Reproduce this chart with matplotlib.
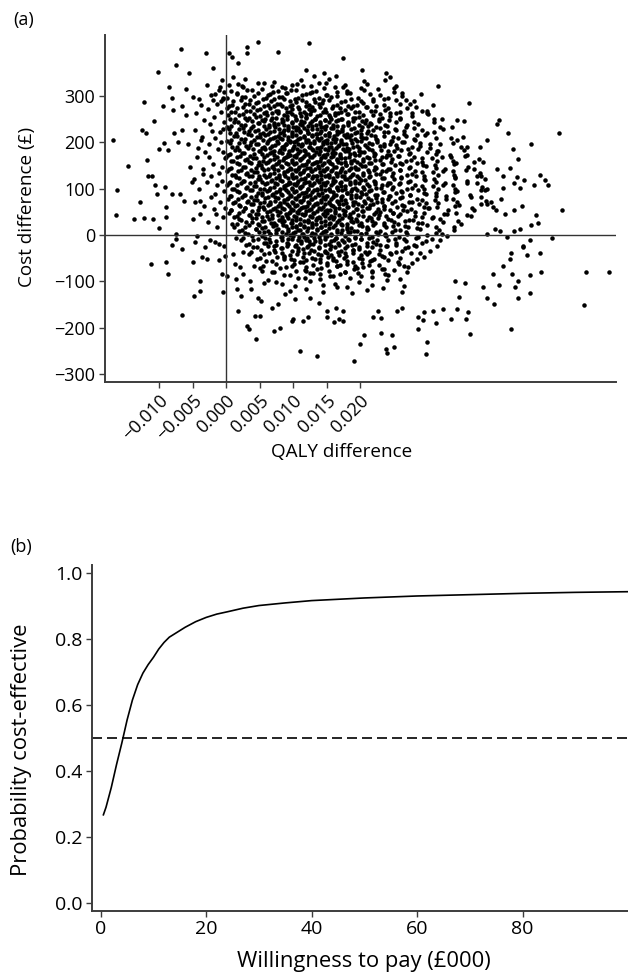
import numpy as np
import matplotlib.pyplot as plt

plt.rcParams['font.family'] = ['Open Sans', 'DejaVu Sans']

# (a) cost-effectiveness plane: QALY difference (in thousandths) and cost difference (GBP)
# sparse replicates around the edge of the cloud
outer_points = [
    (-16.9, 204), (-16.3, 96), (-16.4, 43), (-14.7, 148), (-13.8, 35), (-12.9, 70), (-12.6, 227),
    (-12.2, 287), (-12.0, 220), (-12.3, 36), (-11.8, 162), (-11.6, 128), (-11.1, 128), (-10.9, 35),
    (-10.7, 246), (-10.6, 108), (-10.3, 89), (-10.1, 352), (-10.0, 185), (-10.0, 14), (-9.4, 278),
    (-9.3, 198), (-9.1, 103), (-9.0, 60), (-8.9, 38), (-8.6, 184), (-8.5, 318), (-8.1, 296),
    (-7.9, 269), (-8.0, 89), (-7.8, 219), (-7.5, 366), (-7.1, 200), (-6.9, 89), (-6.7, 400),
    (-6.6, 227), (-6.5, 278), (-6.3, 74), (-6.0, 258), (-5.9, 314), (-5.7, 197), (-5.5, 350),
    (-5.4, 146), (-5.1, 114), (-5.0, 35), (-4.9, 298), (-4.6, 226), (-4.4, 168), (-4.0, 294),
    (-3.9, 74), (-3.6, 211), (-3.4, 132), (-3.0, 393), (-2.9, 323), (-2.6, 168), (-2.4, 240),
    (-2.0, 359), (-1.9, 291), (-1.6, 89), (-1.5, 45), (-1.1, 312), (-0.9, 222), (-0.6, 146),
    (-0.4, 179), (0.4, 392), (0.9, 384), (1.1, 341), (1.8, 371), (3.1, 405), (3.2, 392),
    (4.7, 415), (7.7, 394), (12.4, 413), (11.9, 356),
    (-4.5, 262), (-3.8, 281), (-3.3, 248), (-2.7, 271), (-2.2, 302), (-1.8, 255), (-1.3, 283),
    (-0.8, 266), (-0.5, 295), (-0.3, 243), (-4.2, 187), (-3.7, 205), (-3.1, 178), (-2.5, 196),
    (-2.1, 224), (-1.7, 209), (-1.2, 186), (-0.7, 201), (-0.4, 228), (-0.2, 165), (-4.8, 121),
    (-4.1, 98), (-3.5, 142), (-2.9, 115), (-2.3, 128), (-1.9, 152), (-1.4, 107), (-1.0, 134),
    (-0.6, 117), (-0.3, 95), (-3.9, 45), (-3.3, 63), (-2.7, 28), (-2.2, 81), (-1.8, 55),
    (-1.3, 18), (-0.9, 72), (-0.5, 39), (-0.2, 58), (-4.6, 70),
    (17.4, 381), (13.1, 343), (14.6, 350), (16.4, 343), (20.3, 356), (23.8, 350), (24.4, 341),
    (25.1, 317), (26.2, 305), (29.1, 304), (31.7, 322), (30.9, 281), (28.1, 289), (36.2, 285),
    (30.0, 263), (32.3, 251), (34.4, 247), (35.5, 246), (40.7, 247), (40.4, 239), (42.1, 220),
    (49.7, 220), (45.5, 195), (42.8, 186), (38.9, 204), (37.9, 190), (35.4, 211), (33.7, 233),
    (43.6, 163), (42.3, 145), (40.4, 143), (46.9, 130), (47.6, 119), (48.0, 107), (46.0, 107),
    (44.5, 118), (43.4, 125), (42.9, 112), (43.9, 101), (41.3, 128), (41.3, 102), (41.0, 78),
    (39.6, 72), (38.6, 121), (38.9, 98), (50.1, 53), (46.3, 43), (46.6, 25), (45.5, 22),
    (44.1, 62), (43.0, 54), (43.9, 13), (42.9, 9), (41.6, 45), (40.3, 54), (39.9, 60),
    (40.9, 9), (40.1, 12), (48.7, -7), (45.4, -11), (44.3, -25), (41.9, -5), (38.9, 2),
    (-11.2, -63), (-8.9, -58), (-8.7, -84), (-8.0, -22), (-7.5, 1), (-7.5, -9), (-6.6, -30),
    (-6.6, -173), (-4.9, -58), (-4.8, -132), (-4.6, -16), (-4.4, -2), (-3.9, -100), (-3.9, -121),
    (-3.6, -48), (-3.1, -27), (-2.8, -52), (-2.4, -12), (-1.6, -16), (-1.1, -20), (-1.1, -54),
    (-0.6, -84), (-0.4, -124), (-0.3, -23), (-0.1, -45), (0.2, -88), (1.1, -41), (1.3, -63),
    (1.5, -95), (1.6, -117), (1.8, -165), (2.1, -70), (2.3, -131), (2.6, -84), (3.1, -196),
    (3.4, -203), (3.6, -99), (3.8, -117), (4.3, -175), (4.5, -225), (4.7, -135), (5.0, -175),
    (5.2, -142), (5.3, -77), (5.6, -103), (6.8, -157), (7.1, -207), (7.8, -149), (8.1, -200),
    (8.3, -106), (9.6, -121), (9.8, -185), (10.0, -182), (10.3, -139), (11.0, -250), (11.5, -185),
    (11.8, -92), (12.3, -178), (12.5, -135), (13.5, -261), (13.8, -146),
    (15.0, -178), (15.0, -164), (16.1, -187), (16.9, -182), (17.5, -185), (16.4, -157), (17.5, -164),
    (19.1, -272), (20.0, -236), (20.6, -216), (22.0, -177), (23.1, -180), (22.7, -164), (23.1, -211),
    (23.9, -245), (24.0, -254), (24.7, -216), (25.0, -242), (25.5, -164), (26.2, -157), (28.6, -202),
    (28.7, -178), (29.6, -166), (29.4, -184), (29.9, -256), (30.0, -232), (30.9, -165), (31.4, -189),
    (32.4, -160), (33.5, -182), (34.5, -160), (34.8, -134), (35.8, -182), (36.1, -167), (36.4, -214),
    (34.2, -99), (35.7, -103), (38.4, -113), (38.9, -135), (40.0, -149), (39.9, -84), (40.8, -108),
    (42.5, -204), (42.7, -84), (43.5, -136), (43.6, -99), (43.1, -112), (45.4, -126), (45.4, -86),
    (47.0, -79), (46.8, -38), (44.9, -43), (44.3, -27), (42.5, -39), (42.3, -52), (41.4, -66),
    (53.4, -151), (53.7, -79), (57.1, -79),
]

# dense centre of the cloud, one row per cost band: (QALY values, cost values)
core_rows = [
    ([-0.6, 1.8, 2.9, 5.6, 7.1, 9.8, 11.2, 13.9, 15.3, 17.8, 20.6, 23.7],
     [333, 325, 336, 328, 330, 323, 334, 327, 337, 324, 331, 335]),
    ([0.5, 2.6, 4.8, 6.9, 8.8, 10.6, 12.7, 14.9, 17.5, 21.0],
     [324, 318, 327, 321, 316, 325, 322, 328, 319, 326]),
    ([-0.9, 0.8, 2.4, 3.9, 5.3, 7.0, 8.4, 9.7, 11.5, 12.8, 14.6, 16.3, 18.1, 20.2, 22.7, 25.4],
     [318, 310, 321, 313, 315, 308, 319, 312, 322, 309, 316, 320, 311, 317, 314, 321]),
    ([-0.3, 1.6, 3.2, 4.7, 6.2, 7.7, 9.1, 10.4, 11.9, 13.4, 14.9, 16.6, 18.5, 20.6, 22.9, 25.0],
     [309, 303, 312, 306, 301, 310, 307, 313, 304, 311, 302, 308, 305, 312, 301, 309]),
    ([-1.7, 0.2, 1.6, 2.9, 4.1, 5.5, 6.6, 7.9, 9.0, 10.3, 11.4, 12.6, 13.9, 15.1, 16.6, 18.0, 19.7, 21.5, 23.6, 26.2],
     [303, 295, 306, 298, 300, 293, 304, 297, 307, 294, 301, 305, 296, 302, 299, 306, 295, 303, 293, 300]),
    ([-0.5, 1.0, 2.4, 3.6, 4.8, 6.0, 7.2, 8.4, 9.6, 10.8, 12.0, 13.2, 14.4, 15.7, 17.1, 18.6, 20.2, 22.0, 24.2, 26.8],
     [294, 288, 297, 291, 286, 295, 292, 298, 289, 296, 287, 293, 290, 297, 286, 294, 288, 292, 295, 291]),
    ([-0.7, 0.9, 2.2, 3.4, 4.5, 5.6, 6.7, 7.6, 8.6, 9.5, 10.5, 11.4, 12.4, 13.3, 14.3, 15.4, 16.5, 17.7, 19.0, 20.4,
      21.9, 23.5, 25.3, 27.4],
     [288, 280, 291, 283, 285, 278, 289, 282, 292, 279, 286, 290, 281, 287, 284, 291, 280, 288, 278, 285,
      288, 280, 291, 283]),
    ([0.4, 1.7, 2.9, 4.0, 5.1, 6.2, 7.2, 8.1, 9.0, 9.9, 10.9, 11.9, 12.9, 13.8, 14.8, 15.9, 17.0, 18.2, 19.5, 20.9,
      22.4, 24.1, 26.0, 28.3],
     [279, 273, 282, 276, 271, 280, 277, 283, 274, 281, 272, 278, 275, 282, 271, 279, 273, 277, 280, 276,
      279, 273, 282, 276]),
    ([0.1, 1.3, 2.5, 3.6, 4.6, 5.6, 6.5, 7.4, 8.3, 9.1, 9.9, 10.8, 11.6, 12.4, 13.2, 14.0, 14.9, 15.8, 16.7, 17.7,
      18.7, 19.8, 21.0, 22.3, 23.7, 25.3, 27.0, 29.2],
     [273, 265, 276, 268, 270, 263, 274, 267, 277, 264, 271, 275, 266, 272, 269, 276, 265, 273, 263, 270,
      273, 265, 276, 268, 270, 263, 274, 267]),
    ([0.7, 1.9, 3.0, 4.1, 5.1, 6.0, 6.9, 7.8, 8.7, 9.5, 10.3, 11.1, 11.9, 12.7, 13.5, 14.4, 15.3, 16.2, 17.2, 18.2,
      19.3, 20.4, 21.6, 22.9, 24.4, 26.0, 27.8, 30.0],
     [264, 258, 267, 261, 256, 265, 262, 268, 259, 266, 257, 263, 260, 267, 256, 264, 258, 262, 265, 261,
      264, 258, 267, 261, 256, 265, 262, 268]),
    ([0.3, 1.4, 2.5, 3.5, 4.4, 5.3, 6.1, 6.9, 7.7, 8.4, 9.1, 9.8, 10.5, 11.2, 11.9, 12.6, 13.3, 14.0, 14.7, 15.5,
      16.3, 17.1, 18.0, 18.9, 19.9, 20.9, 22.0, 23.2, 24.5, 26.0, 27.7, 30.1],
     [258, 250, 261, 253, 255, 248, 259, 252, 262, 249, 256, 260, 251, 257, 254, 261, 250, 258, 248, 255,
      258, 250, 261, 253, 255, 248, 259, 252, 262, 249, 256, 260]),
    ([0.6, 1.8, 2.9, 3.9, 4.9, 5.8, 6.7, 7.5, 8.3, 9.1, 9.8, 10.5, 11.2, 11.9, 12.6, 13.3, 14.0, 14.8, 15.6, 16.4,
      17.3, 18.2, 19.2, 20.3, 21.5, 22.8, 24.3, 26.0, 28.0, 31.0],
     [249, 243, 252, 246, 241, 250, 247, 253, 244, 251, 242, 248, 245, 252, 241, 249, 243, 247, 250, 246,
      249, 243, 252, 246, 241, 250, 247, 253, 244, 251]),
    ([0.2, 1.2, 2.2, 3.1, 4.0, 4.8, 5.6, 6.4, 7.1, 7.8, 8.5, 9.2, 9.8, 10.4, 11.0, 11.6, 12.2, 12.8, 13.4, 14.0,
      14.6, 15.3, 16.0, 16.7, 17.4, 18.2, 19.0, 19.8, 20.7, 21.7, 22.8, 24.0, 25.3, 26.8, 28.6, 31.0],
     [233, 244, 237, 247, 234, 241, 245, 236, 242, 239, 246, 235, 243, 233, 240, 243, 235, 246, 238, 240,
      233, 244, 237, 247, 234, 241, 245, 236, 242, 239, 246, 235, 243, 233, 240, 243]),
    ([0.8, 1.9, 2.9, 3.8, 4.7, 5.6, 6.4, 7.2, 7.9, 8.6, 9.3, 10.0, 10.7, 11.4, 12.1, 12.8, 13.5, 14.2, 14.9, 15.7,
      16.5, 17.3, 18.2, 19.1, 20.1, 21.2, 22.4, 23.7, 25.2, 27.0, 29.2, 32.0],
     [234, 228, 237, 231, 226, 235, 232, 238, 229, 236, 227, 233, 230, 237, 226, 234, 228, 232, 235, 231,
      234, 228, 237, 231, 226, 235, 232, 238, 229, 236, 227, 233]),
    ([0.4, 1.5, 2.5, 3.4, 4.3, 5.1, 5.9, 6.6, 7.3, 8.0, 8.7, 9.3, 9.9, 10.5, 11.1, 11.7, 12.3, 12.9, 13.5, 14.1,
      14.7, 15.3, 15.9, 16.6, 17.3, 18.0, 18.7, 19.5, 20.3, 21.1, 22.0, 23.0, 24.1, 25.3, 26.6, 28.1, 30.0, 32.4],
     [228, 220, 231, 223, 225, 218, 229, 222, 232, 219, 226, 230, 221, 227, 224, 231, 220, 228, 218, 225,
      228, 220, 231, 223, 225, 218, 229, 222, 232, 219, 226, 230, 221, 227, 224, 231, 220, 228]),
    ([0.6, 1.7, 2.7, 3.7, 4.6, 5.5, 6.3, 7.1, 7.8, 8.5, 9.2, 9.8, 10.4, 11.0, 11.6, 12.2, 12.8, 13.4, 14.0, 14.7,
      15.4, 16.1, 16.8, 17.6, 18.4, 19.3, 20.2, 21.2, 22.3, 23.5, 24.9, 26.5, 28.5, 31.0],
     [219, 213, 222, 216, 211, 220, 217, 223, 214, 221, 212, 218, 215, 222, 211, 219, 213, 217, 220, 216,
      219, 213, 222, 216, 211, 220, 217, 223, 214, 221, 212, 218, 215, 222]),
    ([0.1, 1.2, 2.3, 3.3, 4.2, 5.0, 5.8, 6.6, 7.3, 8.0, 8.7, 9.3, 9.9, 10.5, 11.1, 11.7, 12.3, 12.9, 13.5, 14.1,
      14.7, 15.3, 15.9, 16.5, 17.2, 17.9, 18.6, 19.3, 20.1, 20.9, 21.7, 22.6, 23.6, 24.6, 25.7, 26.9, 28.2, 29.7,
      31.4, 33.5],
     [203, 214, 207, 217, 204, 211, 215, 206, 212, 209, 216, 205, 213, 203, 210, 213, 205, 216, 208, 210,
      203, 214, 207, 217, 204, 211, 215, 206, 212, 209, 216, 205, 213, 203, 210, 213, 205, 216, 208, 210]),
    ([0.8, 1.9, 2.9, 3.8, 4.7, 5.5, 6.3, 7.0, 7.7, 8.4, 9.0, 9.6, 10.2, 10.8, 11.4, 12.0, 12.6, 13.2, 13.8, 14.4,
      15.0, 15.7, 16.4, 17.1, 17.9, 18.7, 19.5, 20.4, 21.4, 22.4, 23.5, 24.8, 26.2, 28.0, 30.5, 34.5],
     [204, 198, 207, 201, 196, 205, 202, 208, 199, 206, 197, 203, 200, 207, 196, 204, 198, 202, 205, 201,
      204, 198, 207, 201, 196, 205, 202, 208, 199, 206, 197, 203, 200, 207, 196, 204]),
    ([0.6, 1.7, 2.7, 3.6, 4.5, 5.3, 6.1, 6.9, 7.6, 8.3, 9.0, 9.6, 10.2, 10.8, 11.4, 12.0, 12.6, 13.2, 13.8, 14.4,
      15.0, 15.6, 16.2, 16.8, 17.4, 18.1, 18.8, 19.5, 20.2, 21.0, 21.8, 22.6, 23.5, 24.4, 25.4, 26.5, 27.7, 29.0,
      30.4, 32.0, 33.8, 36.0],
     [198, 190, 201, 193, 195, 188, 199, 192, 202, 189, 196, 200, 191, 197, 194, 201, 190, 198, 188, 195,
      198, 190, 201, 193, 195, 188, 199, 192, 202, 189, 196, 200, 191, 197, 194, 201, 190, 198, 188, 195,
      198, 190]),
    ([0.9, 2.0, 3.0, 4.0, 4.9, 5.7, 6.5, 7.3, 8.0, 8.7, 9.4, 10.0, 10.6, 11.2, 11.8, 12.4, 13.0, 13.6, 14.2, 14.8,
      15.4, 16.0, 16.7, 17.4, 18.2, 19.0, 19.9, 20.8, 21.8, 22.9, 24.1, 25.5, 27.1, 29.0, 31.5, 35.0],
     [189, 183, 192, 186, 181, 190, 187, 193, 184, 191, 182, 188, 185, 192, 181, 189, 183, 187, 190, 186,
      189, 183, 192, 186, 181, 190, 187, 193, 184, 191, 182, 188, 185, 192, 181, 189]),
    ([0.3, 1.4, 2.4, 3.3, 4.2, 5.0, 5.8, 6.5, 7.2, 7.9, 8.6, 9.2, 9.8, 10.4, 11.0, 11.6, 12.2, 12.8, 13.4, 14.0,
      14.6, 15.2, 15.8, 16.4, 17.0, 17.7, 18.4, 19.1, 19.8, 20.6, 21.4, 22.2, 23.1, 24.0, 25.0, 26.1, 27.3, 28.6,
      30.0, 31.6, 33.4, 35.5],
     [173, 184, 177, 187, 174, 181, 185, 176, 182, 179, 186, 175, 183, 173, 180, 183, 175, 186, 178, 180,
      173, 184, 177, 187, 174, 181, 185, 176, 182, 179, 186, 175, 183, 173, 180, 183, 175, 186, 178, 180,
      173, 184]),
    ([0.6, 1.7, 2.7, 3.6, 4.5, 5.3, 6.1, 6.9, 7.6, 8.3, 9.0, 9.6, 10.2, 10.8, 11.4, 12.0, 12.6, 13.2, 13.8, 14.4,
      15.0, 15.6, 16.3, 17.0, 17.7, 18.5, 19.3, 20.2, 21.1, 22.1, 23.2, 24.4, 25.8, 27.4, 29.2, 31.3, 33.6, 36.0],
     [174, 168, 177, 171, 166, 175, 172, 178, 169, 176, 167, 173, 170, 177, 166, 174, 168, 172, 175, 171,
      174, 168, 177, 171, 166, 175, 172, 178, 169, 176, 167, 173, 170, 177, 166, 174, 168, 172]),
    ([0.0, 1.1, 2.1, 3.1, 4.0, 4.9, 5.7, 6.5, 7.2, 7.9, 8.6, 9.3, 9.9, 10.5, 11.1, 11.7, 12.3, 12.9, 13.5, 14.1,
      14.7, 15.3, 15.9, 16.5, 17.1, 17.7, 18.4, 19.1, 19.8, 20.5, 21.3, 22.1, 22.9, 23.8, 24.7, 25.7, 26.8, 28.0,
      29.3, 30.7, 32.2, 33.8, 35.6, 37.7],
     [168, 160, 171, 163, 165, 158, 169, 162, 172, 159, 166, 170, 161, 167, 164, 171, 160, 168, 158, 165,
      168, 160, 171, 163, 165, 158, 169, 162, 172, 159, 166, 170, 161, 167, 164, 171, 160, 168, 158, 165,
      168, 160, 171, 163]),
    ([0.8, 1.9, 2.9, 3.8, 4.7, 5.5, 6.3, 7.1, 7.8, 8.5, 9.2, 9.8, 10.4, 11.0, 11.6, 12.2, 12.8, 13.4, 14.0, 14.6,
      15.2, 15.8, 16.5, 17.2, 17.9, 18.7, 19.5, 20.4, 21.3, 22.3, 23.4, 24.6, 26.0, 27.6, 29.4, 31.5, 34.0, 37.0],
     [159, 153, 162, 156, 151, 160, 157, 163, 154, 161, 152, 158, 155, 162, 151, 159, 153, 157, 160, 156,
      159, 153, 162, 156, 151, 160, 157, 163, 154, 161, 152, 158, 155, 162, 151, 159, 153, 157]),
    ([0.5, 1.6, 2.6, 3.5, 4.4, 5.2, 6.0, 6.8, 7.5, 8.2, 8.9, 9.5, 10.1, 10.7, 11.3, 11.9, 12.5, 13.1, 13.7, 14.3,
      14.9, 15.5, 16.1, 16.7, 17.3, 17.9, 18.6, 19.3, 20.0, 20.8, 21.6, 22.4, 23.3, 24.2, 25.2, 26.2, 27.3, 28.5,
      29.8, 31.2, 32.7, 34.3, 36.1, 38.3],
     [143, 154, 147, 157, 144, 151, 155, 146, 152, 149, 156, 145, 153, 143, 150, 153, 145, 156, 148, 150,
      143, 154, 147, 157, 144, 151, 155, 146, 152, 149, 156, 145, 153, 143, 150, 153, 145, 156, 148, 150,
      143, 154, 147, 157]),
    ([0.7, 1.8, 2.8, 3.7, 4.6, 5.4, 6.2, 7.0, 7.7, 8.4, 9.1, 9.7, 10.3, 10.9, 11.5, 12.1, 12.7, 13.3, 13.9, 14.5,
      15.1, 15.7, 16.4, 17.1, 17.8, 18.6, 19.4, 20.3, 21.2, 22.2, 23.3, 24.5, 25.9, 27.5, 29.3, 31.4, 33.9, 37.0],
     [144, 138, 147, 141, 136, 145, 142, 148, 139, 146, 137, 143, 140, 147, 136, 144, 138, 142, 145, 141,
      144, 138, 147, 141, 136, 145, 142, 148, 139, 146, 137, 143, 140, 147, 136, 144, 138, 142]),
    ([0.2, 1.3, 2.3, 3.2, 4.1, 4.9, 5.7, 6.5, 7.2, 7.9, 8.6, 9.2, 9.8, 10.4, 11.0, 11.6, 12.2, 12.8, 13.4, 14.0,
      14.6, 15.2, 15.8, 16.4, 17.0, 17.6, 18.3, 19.0, 19.7, 20.5, 21.3, 22.1, 23.0, 23.9, 24.9, 25.9, 27.0, 28.2,
      29.5, 30.9, 32.4, 34.0, 35.8, 37.9],
     [138, 130, 141, 133, 135, 128, 139, 132, 142, 129, 136, 140, 131, 137, 134, 141, 130, 138, 128, 135,
      138, 130, 141, 133, 135, 128, 139, 132, 142, 129, 136, 140, 131, 137, 134, 141, 130, 138, 128, 135,
      138, 130, 141, 133]),
    ([0.9, 2.0, 3.0, 3.9, 4.8, 5.6, 6.4, 7.2, 7.9, 8.6, 9.3, 9.9, 10.5, 11.1, 11.7, 12.3, 12.9, 13.5, 14.1, 14.7,
      15.3, 15.9, 16.6, 17.3, 18.0, 18.8, 19.6, 20.5, 21.4, 22.4, 23.5, 24.7, 26.1, 27.7, 29.5, 31.6, 34.1, 37.4],
     [129, 123, 132, 126, 121, 130, 127, 133, 124, 131, 122, 128, 125, 132, 121, 129, 123, 127, 130, 126,
      129, 123, 132, 126, 121, 130, 127, 133, 124, 131, 122, 128, 125, 132, 121, 129, 123, 127]),
    ([0.4, 1.5, 2.5, 3.4, 4.3, 5.1, 5.9, 6.7, 7.4, 8.1, 8.8, 9.4, 10.0, 10.6, 11.2, 11.8, 12.4, 13.0, 13.6, 14.2,
      14.8, 15.4, 16.0, 16.6, 17.2, 17.8, 18.5, 19.2, 19.9, 20.7, 21.5, 22.3, 23.2, 24.1, 25.1, 26.1, 27.2, 28.4,
      29.7, 31.1, 32.6, 34.2, 36.0, 38.1],
     [113, 124, 117, 127, 114, 121, 125, 116, 122, 119, 126, 115, 123, 113, 120, 123, 115, 126, 118, 120,
      113, 124, 117, 127, 114, 121, 125, 116, 122, 119, 126, 115, 123, 113, 120, 123, 115, 126, 118, 120,
      113, 124, 117, 127]),
    ([0.6, 1.7, 2.7, 3.6, 4.5, 5.3, 6.1, 6.9, 7.6, 8.3, 9.0, 9.6, 10.2, 10.8, 11.4, 12.0, 12.6, 13.2, 13.8, 14.4,
      15.0, 15.6, 16.3, 17.0, 17.7, 18.5, 19.3, 20.2, 21.1, 22.1, 23.2, 24.4, 25.8, 27.4, 29.2, 31.3, 33.9, 37.5],
     [114, 108, 117, 111, 106, 115, 112, 118, 109, 116, 107, 113, 110, 117, 106, 114, 108, 112, 115, 111,
      114, 108, 117, 111, 106, 115, 112, 118, 109, 116, 107, 113, 110, 117, 106, 114, 108, 112]),
    ([0.1, 1.2, 2.2, 3.2, 4.1, 5.0, 5.8, 6.6, 7.3, 8.0, 8.7, 9.3, 9.9, 10.5, 11.1, 11.7, 12.3, 12.9, 13.5, 14.1,
      14.7, 15.3, 15.9, 16.5, 17.1, 17.8, 18.5, 19.2, 19.9, 20.6, 21.4, 22.2, 23.1, 24.0, 24.9, 25.9, 27.0, 28.2,
      29.5, 30.9, 32.4, 34.1, 36.0, 38.2],
     [108, 100, 111, 103, 105, 98, 109, 102, 112, 99, 106, 110, 101, 107, 104, 111, 100, 108, 98, 105,
      108, 100, 111, 103, 105, 98, 109, 102, 112, 99, 106, 110, 101, 107, 104, 111, 100, 108, 98, 105,
      108, 100, 111, 103]),
    ([0.9, 2.0, 3.0, 3.9, 4.8, 5.6, 6.4, 7.2, 7.9, 8.6, 9.3, 9.9, 10.5, 11.1, 11.7, 12.3, 12.9, 13.5, 14.1, 14.7,
      15.3, 15.9, 16.6, 17.3, 18.0, 18.8, 19.6, 20.5, 21.4, 22.4, 23.5, 24.7, 26.1, 27.7, 29.5, 31.6, 34.1, 38.0],
     [99, 93, 102, 96, 91, 100, 97, 103, 94, 101, 92, 98, 95, 102, 91, 99, 93, 97, 100, 96,
      99, 93, 102, 96, 91, 100, 97, 103, 94, 101, 92, 98, 95, 102, 91, 99, 93, 97]),
    ([0.6, 1.7, 2.7, 3.6, 4.5, 5.3, 6.1, 6.8, 7.5, 8.2, 8.9, 9.5, 10.1, 10.7, 11.3, 11.9, 12.5, 13.1, 13.7, 14.3,
      14.9, 15.5, 16.1, 16.7, 17.3, 18.0, 18.7, 19.4, 20.1, 20.9, 21.7, 22.5, 23.4, 24.3, 25.3, 26.3, 27.4, 28.6,
      29.9, 31.3, 32.8, 34.5, 36.4, 38.6],
     [83, 94, 87, 97, 84, 91, 95, 86, 92, 89, 96, 85, 93, 83, 90, 93, 85, 96, 88, 90,
      83, 94, 87, 97, 84, 91, 95, 86, 92, 89, 96, 85, 93, 83, 90, 93, 85, 96, 88, 90,
      83, 94, 87, 97]),
    ([0.7, 1.8, 2.8, 3.7, 4.6, 5.4, 6.2, 7.0, 7.7, 8.4, 9.1, 9.7, 10.3, 10.9, 11.5, 12.1, 12.7, 13.3, 13.9, 14.5,
      15.1, 15.7, 16.4, 17.1, 17.8, 18.6, 19.4, 20.3, 21.2, 22.2, 23.3, 24.5, 25.9, 27.5, 29.3, 31.4, 33.9, 38.0],
     [84, 78, 87, 81, 76, 85, 82, 88, 79, 86, 77, 83, 80, 87, 76, 84, 78, 82, 85, 81,
      84, 78, 87, 81, 76, 85, 82, 88, 79, 86, 77, 83, 80, 87, 76, 84, 78, 82]),
    ([0.3, 1.4, 2.4, 3.3, 4.2, 5.0, 5.8, 6.6, 7.3, 8.0, 8.7, 9.3, 9.9, 10.5, 11.1, 11.7, 12.3, 12.9, 13.5, 14.1,
      14.7, 15.3, 15.9, 16.5, 17.2, 17.9, 18.6, 19.3, 20.0, 20.8, 21.6, 22.4, 23.3, 24.2, 25.2, 26.2, 27.3, 28.5,
      29.8, 31.2, 32.8, 34.5, 36.5, 38.8],
     [78, 70, 81, 73, 75, 68, 79, 72, 82, 69, 76, 80, 71, 77, 74, 81, 70, 78, 68, 75,
      78, 70, 81, 73, 75, 68, 79, 72, 82, 69, 76, 80, 71, 77, 74, 81, 70, 78, 68, 75,
      78, 70, 81, 73]),
    ([1.0, 2.1, 3.1, 4.0, 4.9, 5.7, 6.5, 7.3, 8.0, 8.7, 9.4, 10.0, 10.6, 11.2, 11.8, 12.4, 13.0, 13.6, 14.2, 14.8,
      15.4, 16.0, 16.7, 17.4, 18.1, 18.9, 19.7, 20.6, 21.5, 22.5, 23.6, 24.8, 26.2, 27.8, 29.6, 31.7, 34.2, 38.0],
     [69, 63, 72, 66, 61, 70, 67, 73, 64, 71, 62, 68, 65, 72, 61, 69, 63, 67, 70, 66,
      69, 63, 72, 66, 61, 70, 67, 73, 64, 71, 62, 68, 65, 72, 61, 69, 63, 67]),
    ([0.8, 1.9, 2.9, 3.8, 4.7, 5.5, 6.3, 7.0, 7.7, 8.4, 9.1, 9.7, 10.3, 10.9, 11.5, 12.1, 12.7, 13.3, 13.9, 14.5,
      15.1, 15.7, 16.3, 16.9, 17.5, 18.2, 18.9, 19.6, 20.3, 21.1, 21.9, 22.7, 23.6, 24.5, 25.5, 26.5, 27.6, 28.8,
      30.1, 31.5, 33.1, 34.8, 36.7, 39.0],
     [53, 64, 57, 67, 54, 61, 65, 56, 62, 59, 66, 55, 63, 53, 60, 63, 55, 66, 58, 60,
      53, 64, 57, 67, 54, 61, 65, 56, 62, 59, 66, 55, 63, 53, 60, 63, 55, 66, 58, 60,
      53, 64, 57, 67]),
    ([0.8, 1.9, 2.9, 3.9, 4.8, 5.7, 6.5, 7.3, 8.0, 8.7, 9.4, 10.0, 10.6, 11.2, 11.8, 12.4, 13.0, 13.6, 14.2, 14.8,
      15.5, 16.2, 16.9, 17.7, 18.5, 19.4, 20.3, 21.3, 22.4, 23.6, 24.9, 26.4, 28.2, 30.3, 33.0, 37.0],
     [54, 48, 57, 51, 46, 55, 52, 58, 49, 56, 47, 53, 50, 57, 46, 54, 48, 52, 55, 51,
      54, 48, 57, 51, 46, 55, 52, 58, 49, 56, 47, 53, 50, 57, 46, 54]),
    ([0.5, 1.6, 2.6, 3.6, 4.5, 5.3, 6.1, 6.9, 7.6, 8.3, 9.0, 9.6, 10.2, 10.8, 11.4, 12.0, 12.6, 13.2, 13.8, 14.4,
      15.0, 15.6, 16.2, 16.9, 17.6, 18.3, 19.0, 19.7, 20.5, 21.3, 22.1, 23.0, 23.9, 24.9, 25.9, 27.0, 28.2, 29.5,
      30.9, 32.5, 34.3, 36.5],
     [48, 40, 51, 43, 45, 38, 49, 42, 52, 39, 46, 50, 41, 47, 44, 51, 40, 48, 38, 45,
      48, 40, 51, 43, 45, 38, 49, 42, 52, 39, 46, 50, 41, 47, 44, 51, 40, 48, 38, 45,
      48, 40]),
    ([1.2, 2.3, 3.4, 4.4, 5.3, 6.1, 6.9, 7.7, 8.4, 9.1, 9.8, 10.4, 11.0, 11.6, 12.2, 12.8, 13.4, 14.0, 14.7, 15.4,
      16.1, 16.9, 17.7, 18.6, 19.5, 20.5, 21.6, 22.8, 24.1, 25.6, 27.3, 29.3, 32.0, 36.0],
     [39, 33, 42, 36, 31, 40, 37, 43, 34, 41, 32, 38, 35, 42, 31, 39, 33, 37, 40, 36,
      39, 33, 42, 36, 31, 40, 37, 43, 34, 41, 32, 38, 35, 42]),
    ([0.9, 2.0, 3.0, 3.9, 4.8, 5.6, 6.4, 7.2, 7.9, 8.6, 9.3, 9.9, 10.5, 11.1, 11.7, 12.3, 12.9, 13.5, 14.1, 14.7,
      15.3, 15.9, 16.6, 17.3, 18.0, 18.7, 19.4, 20.2, 21.0, 21.8, 22.7, 23.6, 24.6, 25.6, 26.7, 27.9, 29.2, 30.7,
      32.4, 34.6],
     [23, 34, 27, 37, 24, 31, 35, 26, 32, 29, 36, 25, 33, 23, 30, 33, 25, 36, 28, 30,
      23, 34, 27, 37, 24, 31, 35, 26, 32, 29, 36, 25, 33, 23, 30, 33, 25, 36, 28, 30]),
    ([1.6, 2.8, 3.9, 4.9, 5.8, 6.7, 7.5, 8.3, 9.0, 9.7, 10.4, 11.0, 11.6, 12.2, 12.8, 13.4, 14.1, 14.8, 15.5, 16.3,
      17.1, 18.0, 18.9, 19.9, 21.0, 22.2, 23.5, 25.0, 26.7, 28.7, 31.3, 35.0],
     [24, 18, 27, 21, 16, 25, 22, 28, 19, 26, 17, 23, 20, 27, 16, 24, 18, 22, 25, 21,
      24, 18, 27, 21, 16, 25, 22, 28, 19, 26, 17, 23]),
    ([1.2, 2.4, 3.5, 4.5, 5.4, 6.2, 7.0, 7.8, 8.5, 9.2, 9.9, 10.5, 11.1, 11.7, 12.3, 12.9, 13.5, 14.1, 14.7, 15.3,
      15.9, 16.6, 17.3, 18.0, 18.7, 19.5, 20.3, 21.1, 22.0, 22.9, 23.9, 24.9, 26.0, 27.2, 28.5, 30.0, 31.8, 34.0],
     [18, 10, 21, 13, 15, 8, 19, 12, 22, 9, 16, 20, 11, 17, 14, 21, 10, 18, 8, 15,
      18, 10, 21, 13, 15, 8, 19, 12, 22, 9, 16, 20, 11, 17, 14, 21, 10, 18]),
    ([2.0, 3.3, 4.5, 5.6, 6.6, 7.5, 8.4, 9.2, 10.0, 10.7, 11.4, 12.1, 12.8, 13.5, 14.2, 14.9, 15.7, 16.5, 17.3, 18.2,
      19.1, 20.1, 21.2, 22.4, 23.7, 25.2, 26.9, 28.9, 31.3, 34.0],
     [9, 3, 12, 6, 1, 10, 7, 13, 4, 11, 2, 8, 5, 12, 1, 9, 3, 7, 10, 6,
      9, 3, 12, 6, 1, 10, 7, 13, 4, 11]),
    ([1.5, 2.8, 3.9, 4.9, 5.8, 6.6, 7.4, 8.2, 8.9, 9.6, 10.3, 10.9, 11.5, 12.1, 12.7, 13.3, 13.9, 14.5, 15.1, 15.7,
      16.4, 17.1, 17.8, 18.5, 19.3, 20.1, 20.9, 21.8, 22.7, 23.7, 24.7, 25.8, 27.0, 28.4, 30.0, 32.2],
     [-7, 4, -3, 7, -6, 1, 5, -4, 2, -1, 6, -5, 3, -7, 0, 3, -5, 6, -2, 0,
      -7, 4, -3, 7, -6, 1, 5, -4, 2, -1, 6, -5, 3, -7, 0, 3]),
    ([2.6, 4.0, 5.3, 6.4, 7.4, 8.3, 9.2, 10.0, 10.8, 11.6, 12.4, 13.2, 14.0, 14.8, 15.6, 16.4, 17.3, 18.2, 19.2, 20.2,
      21.3, 22.5, 23.8, 25.2, 26.8, 28.6, 30.7, 33.0],
     [-6, -12, -3, -9, -14, -5, -8, -2, -11, -4, -13, -7, -10, -3, -14, -6, -12, -8, -5, -9,
      -6, -12, -3, -9, -14, -5, -8, -2]),
    ([2.2, 3.5, 4.7, 5.7, 6.6, 7.5, 8.3, 9.1, 9.8, 10.5, 11.2, 11.9, 12.6, 13.3, 14.0, 14.7, 15.4, 16.1, 16.8, 17.6,
      18.4, 19.2, 20.1, 21.0, 22.0, 23.0, 24.1, 25.3, 26.6, 28.1, 29.8, 32.0],
     [-12, -20, -9, -17, -15, -22, -11, -18, -8, -21, -14, -10, -19, -13, -16, -9, -20, -12, -22, -15,
      -12, -20, -9, -17, -15, -22, -11, -18, -8, -21, -14, -10]),
    ([3.0, 4.6, 6.0, 7.2, 8.3, 9.3, 10.3, 11.2, 12.1, 13.0, 13.9, 14.8, 15.7, 16.7, 17.7, 18.8, 19.9, 21.1, 22.4, 23.8,
      25.4, 27.2, 29.2, 31.5],
     [-21, -27, -18, -24, -29, -20, -23, -17, -26, -19, -28, -22, -25, -18, -29, -21, -27, -23, -20, -24,
      -21, -27, -18, -24]),
    ([2.6, 4.0, 5.2, 6.3, 7.3, 8.2, 9.1, 9.9, 10.7, 11.5, 12.3, 13.1, 13.9, 14.7, 15.5, 16.3, 17.1, 18.0, 18.9, 19.8,
      20.8, 21.8, 22.9, 24.0, 25.3, 26.7, 28.3, 30.5],
     [-37, -26, -33, -23, -36, -29, -25, -34, -28, -31, -24, -35, -27, -37, -30, -27, -35, -24, -32, -30,
      -37, -26, -33, -23, -36, -29, -25, -34]),
    ([3.8, 5.6, 7.1, 8.4, 9.6, 10.7, 11.7, 12.7, 13.7, 14.7, 15.7, 16.7, 17.8, 18.9, 20.1, 21.4, 22.8, 24.4, 26.3, 29.0],
     [-36, -42, -33, -39, -44, -35, -38, -32, -41, -34, -43, -37, -40, -33, -44, -36, -42, -38, -35, -39]),
    ([3.4, 5.0, 6.4, 7.6, 8.7, 9.7, 10.6, 11.5, 12.4, 13.3, 14.2, 15.1, 16.0, 16.9, 17.9, 18.9, 19.9, 21.0, 22.1, 23.3,
      24.6, 26.0, 27.6, 29.6],
     [-42, -50, -39, -47, -45, -52, -41, -48, -38, -51, -44, -40, -49, -43, -46, -39, -50, -42, -52, -45,
      -42, -50, -39, -47]),
    ([4.6, 6.8, 8.6, 10.1, 11.5, 12.8, 14.0, 15.2, 16.4, 17.6, 18.9, 20.3, 21.8, 23.5, 25.6, 28.5],
     [-51, -57, -48, -54, -59, -50, -53, -47, -56, -49, -58, -52, -55, -48, -59, -51]),
    ([4.1, 5.9, 7.4, 8.7, 9.9, 11.0, 12.0, 13.0, 14.0, 15.0, 16.0, 17.0, 18.1, 19.2, 20.3, 21.5, 22.8, 24.2, 25.8, 27.8],
     [-67, -56, -63, -53, -66, -59, -55, -64, -58, -61, -54, -65, -57, -67, -60, -57, -65, -54, -62, -60]),
    ([5.5, 8.0, 10.1, 11.9, 13.5, 15.0, 16.5, 18.0, 19.6, 21.4, 23.6, 26.5],
     [-66, -72, -63, -69, -74, -65, -68, -62, -71, -64, -73, -67]),
    ([5.0, 7.2, 9.0, 10.5, 11.8, 13.0, 14.2, 15.4, 16.6, 17.8, 19.1, 20.4, 21.8, 23.3, 25.0, 27.1],
     [-72, -80, -69, -77, -75, -82, -71, -78, -68, -81, -74, -70, -79, -73, -76, -69]),
    ([6.8, 9.6, 12.0, 14.0, 15.9, 17.8, 19.7, 21.8, 24.2, 27.0],
     [-81, -87, -78, -84, -89, -80, -83, -77, -86, -79]),
    ([6.2, 8.7, 10.8, 12.5, 14.0, 15.5, 17.0, 18.5, 20.1, 21.8, 23.7, 26.0],
     [-97, -86, -93, -83, -96, -89, -85, -94, -88, -91, -84, -95]),
    ([7.5, 10.3, 12.6, 14.5, 16.3, 18.1, 19.9, 21.8, 24.0, 26.6],
     [-102, -110, -99, -107, -105, -112, -101, -108, -98, -111]),
    ([8.8, 11.9, 14.4, 16.6, 18.8, 21.0, 23.4, 26.2],
     [-127, -116, -123, -113, -126, -119, -115, -124]),
]

qaly_ticks = [-0.010, -0.005, 0.000, 0.005, 0.010, 0.015, 0.020]
cost_ticks = [-300, -200, -100, 0, 100, 200, 300]

# (b) cost-effectiveness acceptability curve
wtp = [0.5, 1, 2, 3, 4, 5, 6, 7, 8, 9, 10, 11, 12, 13, 14, 15, 16, 18, 20, 22, 24, 27, 30, 35, 40, 45, 50,
       60, 70, 80, 90, 100]
prob_ce = [0.267, 0.29, 0.35, 0.42, 0.485, 0.555, 0.615, 0.662, 0.697, 0.723, 0.745, 0.77, 0.79, 0.806, 0.816,
           0.826, 0.836, 0.853, 0.866, 0.876, 0.883, 0.894, 0.902, 0.910, 0.917, 0.921, 0.925, 0.931, 0.935,
           0.939, 0.942, 0.944]
wtp_ticks = [0, 20, 40, 60, 80]
prob_ticks = [0.0, 0.2, 0.4, 0.6, 0.8, 1.0]

pairs = list(outer_points)
for qs, cs in core_rows:
    pairs.extend(zip(qs, cs))
qaly = np.array([p[0] for p in pairs]) / 1000
cost = np.array([p[1] for p in pairs])

spine_col = '#3c3c3c'
fs = 13

fig = plt.figure(figsize=(6.28, 9.76), dpi=100)

# panel (a)
ax1 = fig.add_axes([0.1672, 0.6089, 0.8138, 0.3552])
ax1.scatter(qaly, cost, s=10.5, c='black', linewidths=0, zorder=2)
ax1.axvline(0, color='#333333', lw=1.0, zorder=3)
ax1.axhline(0, color='#333333', lw=1.0, zorder=3)
ax1.set_xlim(-0.01806, 0.0582)
ax1.set_ylim(-316.6, 431)
ax1.set_xticks(qaly_ticks)
ax1.set_xticklabels([f'{t:.3f}'.replace('-', '\u2212') for t in qaly_ticks],
                    rotation=45, ha='right', va='top', rotation_mode='anchor')
ax1.set_yticks(cost_ticks)
ax1.set_yticklabels([str(t).replace('-', '\u2212') for t in cost_ticks])

# panel (b)
ax2 = fig.add_axes([0.147, 0.0669, 0.853, 0.3542])
ax2.plot(wtp, prob_ce, color='black', lw=1.2)
ax2.axhline(0.5, color='black', lw=1.2, ls=(0, (6, 3)))
ax2.set_xlim(-1.6, 100)
ax2.set_ylim(-0.024, 1.025)
ax2.set_xticks(wtp_ticks)
ax2.set_yticks(prob_ticks)
ax2.set_yticklabels([f'{t:.1f}' for t in prob_ticks])

for ax in (ax1, ax2):
    ax.spines['top'].set_visible(False)
    ax.spines['right'].set_visible(False)
    for s in ('left', 'bottom'):
        ax.spines[s].set_color(spine_col)
        ax.spines[s].set_linewidth(1.4)
    ax.tick_params(length=4, width=1, color=spine_col, labelsize=fs, pad=3)
ax2.tick_params(labelsize=14)

fig.text(27 / 628, 1 - 207 / 976, 'Cost difference (£)', fontsize=13.6, rotation=90, ha='center', va='center')
fig.text(342 / 628, 1 - 452 / 976, 'QALY difference', fontsize=13.6, ha='center', va='center')
fig.text(22 / 628, 1 - 750 / 976, 'Probability cost-effective', fontsize=15.8, rotation=90,
         ha='center', va='center')
fig.text(364 / 628, 1 - 962 / 976, 'Willingness to pay (£000)', fontsize=15.8, ha='center', va='center')

fig.text(13 / 628, 1 - 20 / 976, '(a)', fontsize=fs, ha='left', va='center')
fig.text(10 / 628, 1 - 547 / 976, '(b)', fontsize=fs, ha='left', va='center')

fig.savefig('out.png', dpi=100)
